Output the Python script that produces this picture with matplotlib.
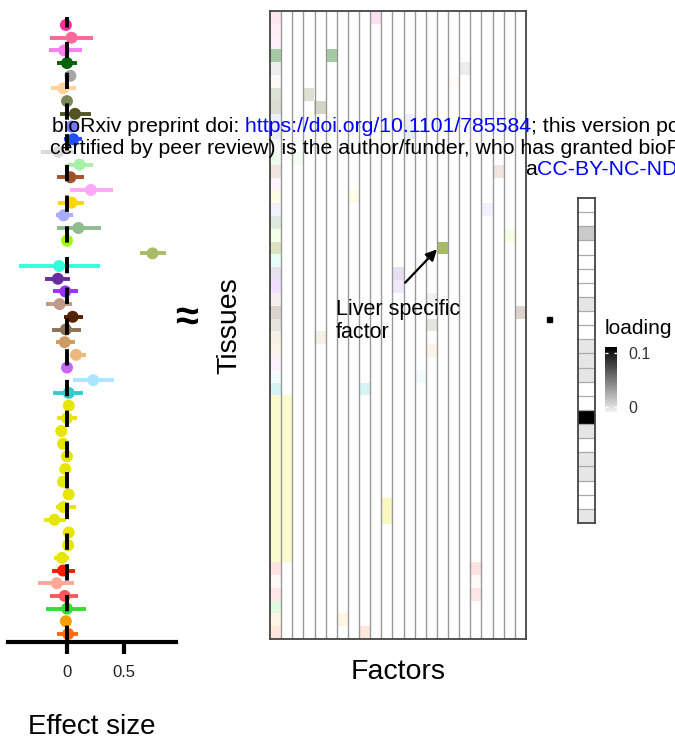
import numpy as np
import matplotlib
matplotlib.use("Agg")
import matplotlib.pyplot as plt
from matplotlib.colors import LinearSegmentedColormap, Normalize, to_rgb
from matplotlib.cm import ScalarMappable
from matplotlib.patches import Rectangle

plt.rcParams['font.family'] = ['Liberation Sans', 'DejaVu Sans']

W, H = 675, 745

# tissue colours, top row to bottom row (49 tissues)
tissue_colors = ['#F5339A', '#F7699B', '#F77FF0', '#006400', '#A6A6A6', '#FFD39B',
                 '#778855', '#555522', '#7777FF', '#1F4FFF', '#D9D9D9', '#A8F0A8',
                 '#A0522D', '#FFA8F8', '#FFD700', '#AAAAFF', '#8FBC8F', '#99FF00',
                 '#AABB66', '#33FFDD', '#6A2C9E', '#9B30FF', '#C09A88', '#552200',
                 '#8B7355', '#CD9B5F', '#EDB87A', '#C964F5', '#AAE6FF', '#33CCCC'] \
    + ['#E6E600'] * 13 \
    + ['#FF1A00', '#FFA898', '#FF5A5A', '#33DD33', '#F5A000', '#FF6A10']

# effect size of the liver factor per tissue with 95% interval
effect = [-0.01, 0.04, -0.025, 0.0, 0.03, -0.035, 0.0, 0.07, 0.04, 0.055,
          -0.075, 0.11, 0.03, 0.21, 0.04, -0.03, 0.10, 0.0, 0.75, -0.07,
          -0.08, -0.015, -0.065, 0.05, -0.01, -0.02, 0.08, 0.0, 0.23, 0.015,
          0.015, 0.0, -0.05, -0.035, 0.0, -0.015, -0.035, 0.015, -0.03, -0.11,
          0.015, 0.01, -0.045, -0.035, -0.09, -0.02, 0.0, -0.01, 0.01]
ci_low = [-0.03, -0.15, -0.16, -0.09, 0.0, -0.14, -0.03, -0.065, 0.0, -0.03,
          -0.23, 0.01, -0.09, 0.03, -0.08, -0.10, -0.09, -0.03, 0.64, -0.42,
          -0.19, -0.12, -0.18, -0.03, -0.13, -0.10, 0.03, -0.03, 0.05, -0.12,
          -0.01, -0.09, -0.07, -0.06, -0.03, -0.04, -0.06, -0.01, -0.10, -0.20,
          -0.01, -0.02, -0.11, -0.13, -0.25, -0.15, -0.18, -0.04, -0.09]
ci_high = [0.01, 0.23, 0.13, 0.09, 0.06, 0.08, 0.03, 0.21, 0.08, 0.13,
           0.06, 0.23, 0.15, 0.40, 0.15, 0.05, 0.30, 0.03, 0.87, 0.29,
           0.03, 0.10, 0.04, 0.14, 0.12, 0.07, 0.17, 0.03, 0.41, 0.14,
           0.04, 0.09, -0.03, -0.01, 0.03, 0.01, -0.01, 0.04, 0.08, -0.01,
           0.04, 0.04, 0.02, 0.07, 0.065, 0.10, 0.17, 0.02, 0.10]

n_factors = 23
# factor 1: shared by all tissues
shared_loading = [0.12, 0.12, 0.12, 0.35, 0.2, 0.1, 0.25, 0.2, 0.12, 0.1,
                  0.15, 0.2, 0.15, 0.12, 0.1, 0.15, 0.3, 0.1, 0.4, 0.12,
                  0.15, 0.15, 0.15, 0.2, 0.2, 0.15, 0.15, 0.08, 0.15, 0.2,
                  0.2, 0.2, 0.2, 0.2, 0.2, 0.2, 0.2, 0.2, 0.2, 0.2,
                  0.2, 0.2, 0.2, 0.12, 0.08, 0.15, 0.15, 0.1, 0.15]
# factor 2: brain
brain_rows = list(range(30, 43))
brain_loading = 0.2
# other sparse loadings: (tissue row, factor, loading)
specific_cells = [(0, 9, 0.15), (3, 5, 0.35), (4, 17, 0.2), (5, 16, 0.1),
                  (6, 3, 0.25), (7, 4, 0.25), (8, 12, 0.12), (9, 12, 0.1),
                  (11, 2, 0.12), (12, 20, 0.15), (14, 7, 0.1), (15, 19, 0.15),
                  (17, 21, 0.1), (18, 15, 1.0), (20, 11, 0.15), (21, 11, 0.12),
                  (22, 14, 0.15), (23, 22, 0.2), (24, 14, 0.2), (25, 4, 0.15),
                  (26, 14, 0.15), (28, 13, 0.15), (29, 8, 0.2), (38, 10, 0.25),
                  (39, 10, 0.25), (43, 18, 0.12), (44, 18, 0.06), (45, 18, 0.15),
                  (47, 6, 0.1), (48, 8, 0.15)]

# SNP loading on each factor (nan = not shown)
factor_loading = [np.nan, np.nan, 0.011, np.nan, np.nan, np.nan, np.nan, -0.003,
                  np.nan, np.nan, -0.003, -0.003, -0.003, np.nan, np.nan, 0.111,
                  -0.003, np.nan, -0.003, -0.003, np.nan, np.nan, -0.003]


def fig_box(x0, y0, x1, y1):
    return [x0 / W, 1 - y1 / H, (x1 - x0) / W, (y1 - y0) / H]


fig = plt.figure(figsize=(W / 100, H / 100), dpi=100)

# ---- forest plot
n = len(effect)
rows = np.arange(n)
ax = fig.add_axes(fig_box(8, 17.4, 176, 641.6))
ax.hlines(rows, ci_low, ci_high, colors=tissue_colors, lw=2.8, zorder=2)
ax.scatter(effect, rows, s=74, c=tissue_colors, linewidths=0, zorder=3)
ax.plot([0, 0], [n - 0.4, -0.6], color='black', lw=2.8,
        ls=(0, (4.2, 3.7)), zorder=4)
ax.set_ylim(n - 0.4, -0.6)
ax.set_xlim(-0.5175, 0.956)
for s in ['left', 'top', 'right']:
    ax.spines[s].set_visible(False)
ax.spines['bottom'].set_linewidth(3)
ax.set_yticks([])
ax.set_xticks([0, 0.5])
ax.set_xticklabels(['0', '0.5'])
ax.tick_params(axis='x', length=8.6, width=3, pad=8, labelsize=12, labelcolor='#222222')
ax.patch.set_alpha(0)
fig.text(92 / W, 1 - 727 / H, 'Effect size', fontsize=20, ha='center', va='center')

# ---- tissue x factor matrix
heat = np.zeros((n, n_factors))
heat[:, 0] = shared_loading
heat[brain_rows, 1] = brain_loading
for r, c, v in specific_cells:
    heat[r, c] = v
rgb_t = np.array([to_rgb(c) for c in tissue_colors])
img = 1 - heat[:, :, None] * (1 - rgb_t[:, None, :])

axh = fig.add_axes(fig_box(270, 11, 526, 639))
axh.imshow(img, aspect='auto', interpolation='nearest',
           extent=(-0.5, n_factors - 0.5, n - 0.5, -0.5))
axh.vlines(np.arange(0.5, n_factors - 0.5), -0.5, n - 0.5, colors='#999999', lw=1.0)
axh.set_xticks([])
axh.set_yticks([])
for s in axh.spines.values():
    s.set_color('#444444')
    s.set_linewidth(1.3)
axh.annotate('', xy=(14.5, 18.1), xytext=(11.64, 20.7),
             arrowprops=dict(arrowstyle='-|>', color='black', lw=1.6,
                             mutation_scale=16, shrinkA=0, shrinkB=0))
fig.text(336 / W, 1 - 299 / H, 'Liver specific\nfactor', fontsize=15.5,
         ha='left', va='top', linespacing=1.1)
fig.text(229 / W, 1 - 326 / H, 'Tissues', fontsize=20.5, rotation=90,
         ha='center', va='center')
fig.text(398 / W, 1 - 672 / H, 'Factors', fontsize=20.5, ha='center', va='center')

fig.text(187 / W, 1 - 319 / H, '\u2248', fontsize=30, fontweight='bold',
         ha='center', va='center')
fig.patches.append(Rectangle((547.3 / W, 1 - 321.7 / H), 4.4 / W, 4.4 / H,
                             transform=fig.transFigure, color='black'))

# ---- factor loading bar
cmap = LinearSegmentedColormap.from_list('load', ['#F2F2F2', '#000000'])
cmap.set_bad('white')
norm = Normalize(-0.009, 0.111)
axl = fig.add_axes(fig_box(578, 198, 595, 523))
axl.imshow(np.array(factor_loading)[:, None], cmap=cmap, norm=norm, aspect='auto',
           interpolation='nearest', extent=(0, 1, n_factors, 0))
axl.hlines(np.arange(1, n_factors), 0, 1, colors='#aaaaaa', lw=0.9)
axl.set_xticks([])
axl.set_yticks([])
for s in axl.spines.values():
    s.set_color('#444444')
    s.set_linewidth(1.3)

cax = fig.add_axes(fig_box(605, 347, 617, 412))
cb = fig.colorbar(ScalarMappable(norm=norm, cmap=cmap), cax=cax, ticks=[0, 0.1])
cb.outline.set_visible(False)
cb.set_ticklabels(['0', '0.1'])
cax.tick_params(axis='y', length=2.5, width=1, color='white', direction='in',
                left=True, right=True, labelsize=11.5, labelcolor='#333333', pad=8)
fig.text(605 / W, 1 - 334 / H, 'loading', fontsize=15, ha='left', va='baseline')

# ---- preprint banner
renderer = fig.canvas.get_renderer()
banner = [
    (52, 132, [('bioRxiv preprint doi:', 'black'),
               (' https://doi.org/10.1101/785584', 'blue'),
               ('; this version posted September 26, 2019. The copyright holder '
                'for this preprint (which was not', 'black')]),
    (50, 154, [('certified by peer review) is the author/funder, who has granted '
                'bioRxiv a license to display the preprint in perpetuity. It is '
                'made available under', 'black')]),
    (525, 175, [('a', 'black'), ('CC-BY-NC-ND 4.0 International license', 'blue'),
                ('.', 'black')]),
]
for x0, y0, pieces in banner:
    x = x0
    for s, c in pieces:
        t = fig.text(x / W, 1 - y0 / H, s, color=c, fontsize=15.3,
                     ha='left', va='baseline', zorder=20)
        x = t.get_window_extent(renderer=renderer).x1

fig.savefig('out.png', dpi=100)
